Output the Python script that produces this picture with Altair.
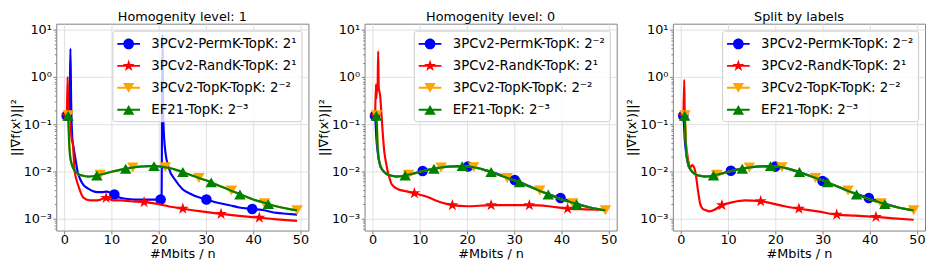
import math
import altair as alt
import pandas as pd

# ---------------- data ----------------
panel_titles = ["Homogenity level: 1", "Homogenity level: 0", "Split by labels"]
legend_labels = [
    ["3PCv2-PermK-TopK: 2¹", "3PCv2-RandK-TopK: 2¹", "3PCv2-TopK-TopK: 2⁻²", "EF21-TopK: 2⁻³"],
    ["3PCv2-PermK-TopK: 2⁻²", "3PCv2-RandK-TopK: 2¹", "3PCv2-TopK-TopK: 2⁻²", "EF21-TopK: 2⁻³"],
    ["3PCv2-PermK-TopK: 2⁻²", "3PCv2-RandK-TopK: 2¹", "3PCv2-TopK-TopK: 2⁻²", "EF21-TopK: 2⁻³"],
]
series_colors = ["#0000ff", "#ff0000", "#ffa500", "#008000"]

x_ticks = [0, 10, 20, 30, 40, 50]
y_ticks = [0.001, 0.01, 0.1, 1, 10]
y_tick_labels = ["10⁻³", "10⁻²", "10⁻¹", "10⁰", "10¹"]

# EF21-TopK (same in all panels)
ef21_line_x = [0.8, 0.9, 1.0, 1.2, 1.5, 2.0, 2.5, 3.0, 4.0, 5.0, 6.0, 6.9, 8.0, 10.0, 12.0, 14.0, 16.0,
               18.0, 20.0, 22.0, 24.0, 26.0, 28.0, 30.0, 32.0, 34.0, 36.0, 38.0, 40.0, 42.0, 44.0, 46.0, 48.0, 49.3]
ef21_line_y = [0.15, 0.09, 0.045, 0.022, 0.015, 0.011, 0.0095, 0.0087, 0.008, 0.0077, 0.0078, 0.0081, 0.0086,
               0.0097, 0.0108, 0.0118, 0.0125, 0.0128, 0.0127, 0.0118, 0.0104, 0.0088, 0.0075, 0.0064, 0.0053,
               0.0044, 0.0036, 0.003, 0.0025, 0.0022, 0.0019, 0.0017, 0.00155, 0.00148]
ef21_mark_x = [0.8, 6.9, 13.0, 19.0, 25.1, 31.1, 37.2, 43.2]
ef21_mark_y = [0.15, 0.0081, 0.0113, 0.0128, 0.0096, 0.0058, 0.0032, 0.0020]

# 3PCv2-TopK-TopK (same in all panels)
topk_line_x = [0.85, 0.95, 1.05, 1.25, 1.5, 2.0, 2.5, 3.0, 4.0, 5.0, 6.0, 7.6, 10.0, 12.0, 14.5, 16.0, 18.0,
               20.0, 21.4, 24.0, 26.0, 28.5, 30.0, 32.0, 35.4, 38.0, 40.0, 42.4, 44.0, 46.0, 48.0, 49.3]
topk_line_y = [0.155, 0.09, 0.045, 0.022, 0.015, 0.011, 0.0095, 0.0087, 0.008, 0.0077, 0.0078, 0.0084, 0.0097,
               0.0108, 0.012, 0.0125, 0.0128, 0.0127, 0.0122, 0.0104, 0.0088, 0.0072, 0.0064, 0.0053, 0.0039,
               0.003, 0.0025, 0.0021, 0.0019, 0.0017, 0.00155, 0.00148]
topk_mark_x = [0.85, 7.6, 14.5, 21.4, 28.5, 35.4, 42.4, 49.3]
topk_mark_y = [0.155, 0.0084, 0.012, 0.0122, 0.0072, 0.0039, 0.0021, 0.00148]

# 3PCv2-PermK-TopK
permk1_line_x = [0.5, 0.8, 1.1, 1.3, 1.45, 1.7, 2.0, 2.5, 2.8, 3.3, 4.0, 5.0, 6.0, 7.0, 8.0, 9.0, 10.0, 10.6,
                 11.5, 13.0, 15.0, 18.0, 20.4, 20.6, 20.8, 21.0, 21.4, 22.1, 23.5, 25.0, 27.0, 30.1, 32.0,
                 35.0, 37.0, 39.8, 42.0, 45.0, 47.0, 49.3]
permk1_line_y = [0.15, 0.16, 0.2, 4.0, 0.3, 0.05, 0.03, 0.015, 0.01, 0.007, 0.0052, 0.0043, 0.0038, 0.0036,
                 0.0036, 0.0037, 0.0034, 0.0032, 0.0028, 0.0026, 0.0025, 0.0025, 0.0025, 0.003, 8.0, 0.1,
                 0.026, 0.012, 0.0065, 0.0042, 0.0032, 0.0025, 0.0022, 0.0019, 0.0017, 0.00158, 0.0015,
                 0.0013, 0.00125, 0.0012]
permk1_mark_x = [0.5, 10.6, 20.4, 30.1, 39.8]
permk1_mark_y = [0.15, 0.0032, 0.0025, 0.0025, 0.00158]

permk2_line_x = [0.5, 0.65, 0.8, 1.0, 1.3, 1.6, 2.0, 3.0, 4.0, 5.0, 7.0, 10.6, 14.0, 17.0, 20.2, 24.0, 27.0,
                 30.1, 33.0, 36.0, 39.8, 43.0, 46.0, 49.3]
permk2_line_y = [0.15, 0.1, 0.05, 0.03, 0.018, 0.013, 0.011, 0.0087, 0.008, 0.0078, 0.008, 0.0101, 0.0118,
                 0.0126, 0.0126, 0.0104, 0.0084, 0.0065, 0.0049, 0.0036, 0.0027, 0.0021, 0.0017, 0.00148]
permk2_mark_x = [0.5, 10.6, 20.2, 30.1, 39.8]
permk2_mark_y = [0.15, 0.0101, 0.0126, 0.0065, 0.0027]

permk3_line_x = [0.5, 0.65, 0.8, 1.0, 1.3, 1.6, 2.0, 3.0, 4.0, 5.0, 7.0, 10.6, 14.0, 17.0, 20.0, 24.0, 27.0,
                 30.0, 33.0, 36.0, 39.8, 43.0, 46.0, 49.3]
permk3_line_y = [0.15, 0.1, 0.05, 0.03, 0.018, 0.013, 0.011, 0.0087, 0.008, 0.0078, 0.008, 0.0102, 0.0118,
                 0.0126, 0.0125, 0.0103, 0.0082, 0.0062, 0.0048, 0.0036, 0.0027, 0.0021, 0.0017, 0.00148]
permk3_mark_x = [0.5, 10.6, 20.0, 30.0, 39.8]
permk3_mark_y = [0.15, 0.0102, 0.0125, 0.0062, 0.0027]

# 3PCv2-RandK-TopK
randk1_line_x = [0.55, 0.7, 0.8, 1.0, 1.3, 1.6, 1.8, 2.0, 2.2, 2.6, 3.1, 4.1, 5.5, 6.9, 8.85, 10.4, 12.0,
                 14.0, 16.9, 20.0, 22.0, 25.1, 29.0, 33.2, 37.0, 41.3, 45.0, 49.3]
randk1_line_y = [0.15, 1.0, 0.3, 0.15, 0.08, 0.045, 0.04, 0.02, 0.01, 0.0065, 0.0045, 0.0027, 0.0024, 0.0024,
                 0.0027, 0.0024, 0.0024, 0.0023, 0.0022, 0.002, 0.0018, 0.0016, 0.0014, 0.00124, 0.00113,
                 0.00103, 0.00095, 0.00088]
randk1_mark_x = [0.55, 8.85, 16.9, 25.1, 33.2, 41.3]
randk1_mark_y = [0.15, 0.0027, 0.0022, 0.0016, 0.00124, 0.00103]

randk2_line_x = [0.55, 0.7, 0.8, 0.95, 1.05, 1.18, 1.3, 1.6, 1.9, 2.2, 2.5, 2.8, 3.5, 4.1, 5.5, 6.9, 8.85,
                 11.8, 13.8, 15.9, 16.9, 20.0, 25.1, 29.0, 33.2, 37.3, 41.3, 45.0, 49.3]
randk2_line_y = [0.15, 0.7, 0.35, 0.7, 0.5, 3.5, 0.6, 0.4, 0.15, 0.055, 0.025, 0.016, 0.0076, 0.0052, 0.0041,
                 0.0038, 0.0034, 0.0028, 0.0023, 0.002, 0.0019, 0.0018, 0.0019, 0.0019, 0.0019, 0.0018,
                 0.0016, 0.00155, 0.0015]
randk2_mark_x = [0.55, 8.85, 16.9, 25.1, 33.2, 41.3]
randk2_mark_y = [0.15, 0.0034, 0.0019, 0.0019, 0.0019, 0.0016]

randk3_line_x = [0.55, 0.7, 0.8, 1.0, 1.3, 1.6, 2.0, 2.4, 2.8, 3.2, 3.6, 4.1, 4.6, 5.2, 6.0, 7.0, 8.7, 11.0,
                 13.5, 16.9, 20.0, 22.0, 25.0, 29.0, 33.0, 37.0, 41.3, 45.0, 49.3]
randk3_line_y = [0.15, 0.87, 0.2, 0.05, 0.025, 0.016, 0.012, 0.0135, 0.012, 0.008, 0.004, 0.002, 0.0016,
                 0.0015, 0.0014, 0.0015, 0.0019, 0.0022, 0.0024, 0.0023, 0.002, 0.0018, 0.0016, 0.0014,
                 0.0012, 0.00114, 0.00107, 0.001, 0.00093]
randk3_mark_x = [0.55, 8.7, 16.9, 25.0, 33.0, 41.3]
randk3_mark_y = [0.15, 0.0019, 0.0023, 0.0016, 0.0012, 0.00107]

panel_series = [
    [(permk1_line_x, permk1_line_y, permk1_mark_x, permk1_mark_y),
     (randk1_line_x, randk1_line_y, randk1_mark_x, randk1_mark_y),
     (topk_line_x, topk_line_y, topk_mark_x, topk_mark_y),
     (ef21_line_x, ef21_line_y, ef21_mark_x, ef21_mark_y)],
    [(permk2_line_x, permk2_line_y, permk2_mark_x, permk2_mark_y),
     (randk2_line_x, randk2_line_y, randk2_mark_x, randk2_mark_y),
     (topk_line_x, topk_line_y, topk_mark_x, topk_mark_y),
     (ef21_line_x, ef21_line_y, ef21_mark_x, ef21_mark_y)],
    [(permk3_line_x, permk3_line_y, permk3_mark_x, permk3_mark_y),
     (randk3_line_x, randk3_line_y, randk3_mark_x, randk3_mark_y),
     (topk_line_x, topk_line_y, topk_mark_x, topk_mark_y),
     (ef21_line_x, ef21_line_y, ef21_mark_x, ef21_mark_y)],
]

# ---------------- styling ----------------
FONT = "DejaVu Sans"
PANEL_W, PANEL_H = 256, 210
X_DOMAIN = [-1.7, 51.7]
Y_DOMAIN = [5.5e-4, 13.5]


def f(v):
    return f"{v:.4f}".rstrip("0").rstrip(".")


def star_path(R, cx=0.0):
    pts = []
    for k in range(10):
        ang = math.radians(-90 + 36 * k)
        r = R if k % 2 == 0 else R * 0.382
        pts.append((cx + r * math.cos(ang), r * math.sin(ang)))
    return "M" + "L".join(f"{f(px)},{f(py)}" for px, py in pts) + "Z"


def circle_path(r):
    return f"M{f(r)},0A{f(r)},{f(r)} 0 1,1 {f(-r)},0A{f(r)},{f(r)} 0 1,1 {f(r)},0Z"


def tri_down_path(w, h):
    return f"M{f(-w)},{f(-h)}L{f(w)},{f(-h)}L0,{f(h)}Z"


def tri_up_path(w, h):
    return f"M0,{f(-h)}L{f(w)},{f(h)}L{f(-w)},{f(h)}Z"


# legend symbols: a line segment with the marker on it (unit = 9 px)
LINE_HALF, LINE_T = 1.28, 0.11
line_seg = f"M{f(-LINE_HALF)},{f(-LINE_T)}L{f(LINE_HALF)},{f(-LINE_T)}L{f(LINE_HALF)},{f(LINE_T)}L{f(-LINE_HALF)},{f(LINE_T)}Z"
legend_paths = [
    line_seg + circle_path(0.6),
    line_seg + star_path(0.72),
    line_seg + tri_down_path(0.64, 0.55),
    line_seg + tri_up_path(0.64, 0.55),
]
marker_shapes = ["circle", star_path(1.0), "triangle-down", "triangle-up"]
marker_sizes = [115, 160, 135, 135]

minor_ticks = []
for e in range(-4, 2):
    for m in range(2, 10):
        v = m * 10 ** e
        if Y_DOMAIN[0] <= v <= Y_DOMAIN[1]:
            minor_ticks.append(float(f"{v:.6g}"))
y_axis_values = y_ticks + minor_ticks

major_test = "abs(log(datum.value)/LN10 - round(log(datum.value)/LN10)) < 0.001"
label_expr = "''"
for v, lab in zip(y_ticks, y_tick_labels):
    label_expr = f"abs(datum.value - {v}) < {v} * 0.001 ? '{lab}' : (" + label_expr + ")"


def make_panel(i):
    rows = []
    for s, (lx, ly, mx, my) in enumerate(panel_series[i]):
        for xv, yv in zip(lx, ly):
            rows.append({"x": xv, "y": yv, "s": s, "kind": "line", "label": legend_labels[i][s]})
        for xv, yv in zip(mx, my):
            rows.append({"x": xv, "y": yv, "s": s, "kind": "mark", "label": legend_labels[i][s]})
    df = pd.DataFrame(rows)
    base = alt.Chart(df)

    x_enc = alt.X(
        "x:Q",
        scale=alt.Scale(domain=X_DOMAIN, nice=False, zero=False),
        axis=alt.Axis(values=x_ticks, grid=True, tickSize=3.5, labelPadding=0, titlePadding=1),
        title="#Mbits / n",
    )
    y_enc = alt.Y(
        "y:Q",
        scale=alt.Scale(type="log", domain=Y_DOMAIN, nice=False),
        axis=alt.Axis(
            values=y_axis_values,
            labelExpr=label_expr,
            labelOverlap=False,
            grid=True,
            gridOpacity={"condition": {"test": major_test, "value": 1}, "value": 0},
            tickSize={"condition": {"test": major_test, "value": 3.5}, "value": 2},
            labelPadding=1.5,
            titlePadding=1,
        ),
        title="||∇f(xᵗ)||²",
    )

    layers = []
    for s in range(4):
        line = base.transform_filter(f"datum.s == {s} && datum.kind == 'line'").mark_line(
            color=series_colors[s], strokeWidth=2.2, interpolate="monotone", clip=True
        ).encode(x=x_enc, y=y_enc)
        pts = base.transform_filter(f"datum.s == {s} && datum.kind == 'mark'").mark_point(
            shape=marker_shapes[s], size=marker_sizes[s], filled=True, opacity=1,
            color=series_colors[s], strokeWidth=0, clip=True
        ).encode(x=x_enc, y=y_enc)
        layers += [line, pts]

    leg = alt.Legend(
        title=None, orient="top-right", offset=7,
        fillColor="rgba(255,255,255,0.8)", strokeColor="#cccccc", cornerRadius=3,
        padding=4.5, symbolOffset=3, symbolSize=324, symbolStrokeWidth=0,
        labelFont=FONT, labelFontSize=13.5, labelColor="black", labelOffset=14,
        rowPadding=6.3, labelLimit=300,
    )
    legend_layer = base.transform_filter("false").mark_point(filled=True, opacity=1).encode(
        color=alt.Color("label:N", scale=alt.Scale(domain=legend_labels[i], range=series_colors), legend=leg),
        shape=alt.Shape("label:N", scale=alt.Scale(domain=legend_labels[i], range=legend_paths), legend=leg),
    )
    layers.append(legend_layer)

    return alt.layer(*layers).properties(
        width=PANEL_W, height=PANEL_H,
        title=alt.TitleParams(panel_titles[i], font=FONT, fontSize=13, fontWeight="normal",
                              color="black", offset=0, anchor="middle"),
    )


chart = alt.hconcat(*[make_panel(i) for i in range(3)], spacing=7).resolve_scale(
    color="independent", shape="independent"
).resolve_legend(color="independent", shape="independent").configure_view(
    stroke="#808080", strokeWidth=1
).configure_axis(
    domain=False, gridColor="#d9d9d9", gridWidth=0.8, tickColor="#808080",
    labelFont=FONT, labelFontSize=13, labelColor="black",
    titleFont=FONT, titleFontSize=13, titleFontWeight="normal", titleColor="black",
).properties(padding=0, background="white")

chart.save("out.html", embed_options={"renderer": "svg", "actions": False})
